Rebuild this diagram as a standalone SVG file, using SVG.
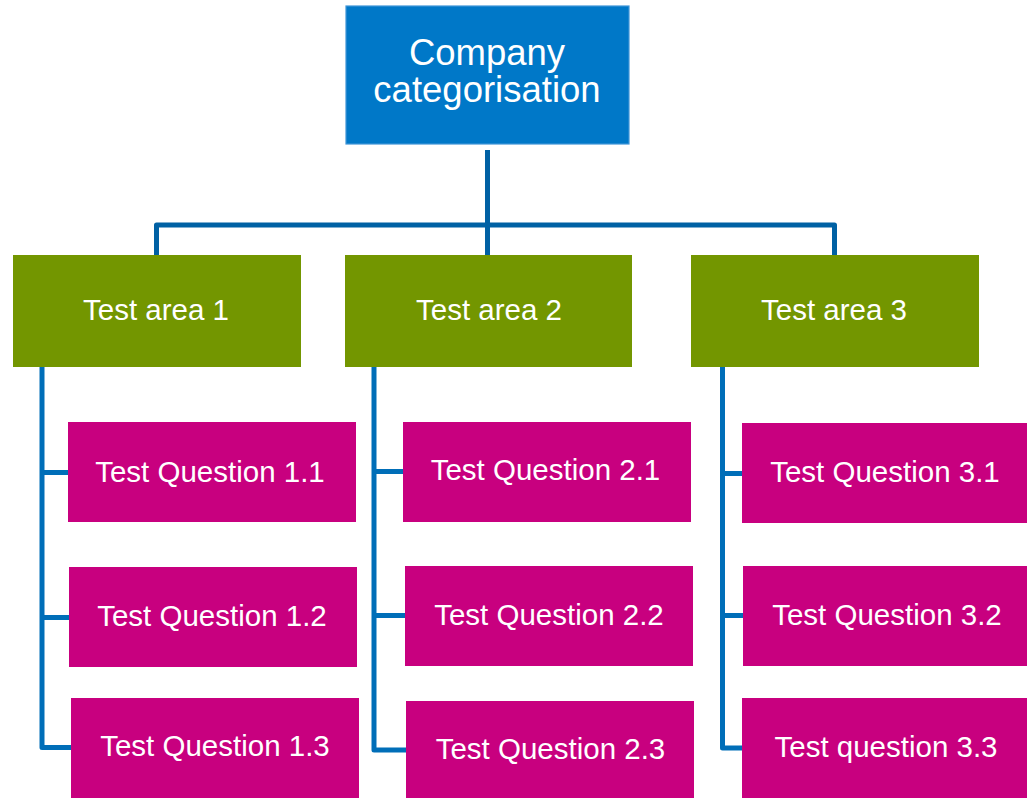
<svg xmlns="http://www.w3.org/2000/svg" width="1027" height="798" viewBox="0 0 1027 798">
  <style>
    .root { fill: #0078C8; stroke: #3E95D8; stroke-width: 1.2; }
    .area { fill: #739600; }
    .q { fill: #C8007F; }
    .lbl { font-family: "Liberation Sans", Arial, sans-serif; fill: #FFFFFF; text-anchor: middle; }
    .big { font-size: 36.5px; }
    .mid { font-size: 29.5px; }
    .top { fill: none; stroke: #0061A4; stroke-width: 5; stroke-linejoin: round; }
    .side { fill: none; stroke: #006EB8; stroke-width: 5; stroke-linejoin: round; }
  </style>

  <rect width="1027" height="798" fill="#FFFFFF"/>

  <!-- connectors -->
  <g id="connectors">
    <path class="top" d="M487.5 150 V255"/>
    <path class="top" d="M156.5 255 V225 H834.5 V255"/>
    <path class="side" d="M42 367 V747.5 H71 M42 472.5 H68 M42 617.5 H69"/>
    <path class="side" d="M374 367 V750 H406 M374 471.5 H403 M374 615.5 H405"/>
    <path class="side" d="M722.5 367 V748 H742 M722.5 473.5 H742 M722.5 615.5 H743"/>
  </g>

  <g id="company">
    <rect class="root" x="346" y="6" width="283" height="138"/>
    <text class="lbl big" x="487" y="65">Company</text>
    <text class="lbl big" x="487" y="102">categorisation</text>
  </g>

  <g id="area1">
    <rect class="area" x="13" y="255" width="288" height="112"/>
    <text class="lbl mid" x="156" y="320">Test area 1</text>
  </g>
  <g id="area2">
    <rect class="area" x="345" y="255" width="287" height="112"/>
    <text class="lbl mid" x="489" y="320">Test area 2</text>
  </g>
  <g id="area3">
    <rect class="area" x="691" y="255" width="288" height="112"/>
    <text class="lbl mid" x="834" y="320">Test area 3</text>
  </g>

  <g id="q1-1">
    <rect class="q" x="68" y="422" width="288" height="100"/>
    <text class="lbl mid" x="210" y="482">Test Question 1.1</text>
  </g>
  <g id="q1-2">
    <rect class="q" x="69" y="567" width="288" height="100"/>
    <text class="lbl mid" x="212" y="626">Test Question 1.2</text>
  </g>
  <g id="q1-3">
    <rect class="q" x="71" y="698" width="288" height="100"/>
    <text class="lbl mid" x="215" y="756">Test Question 1.3</text>
  </g>

  <g id="q2-1">
    <rect class="q" x="403" y="422" width="288" height="100"/>
    <text class="lbl mid" x="545.5" y="480">Test Question 2.1</text>
  </g>
  <g id="q2-2">
    <rect class="q" x="405" y="566" width="288" height="100"/>
    <text class="lbl mid" x="549" y="625">Test Question 2.2</text>
  </g>
  <g id="q2-3">
    <rect class="q" x="406" y="701" width="288" height="97"/>
    <text class="lbl mid" x="550.5" y="759">Test Question 2.3</text>
  </g>

  <g id="q3-1">
    <rect class="q" x="742" y="423" width="288" height="100"/>
    <text class="lbl mid" x="885" y="482">Test Question 3.1</text>
  </g>
  <g id="q3-2">
    <rect class="q" x="743" y="566" width="288" height="100"/>
    <text class="lbl mid" x="887" y="625">Test Question 3.2</text>
  </g>
  <g id="q3-3">
    <rect class="q" x="742" y="698" width="288" height="100"/>
    <text class="lbl mid" x="886" y="757">Test question 3.3</text>
  </g>
</svg>
